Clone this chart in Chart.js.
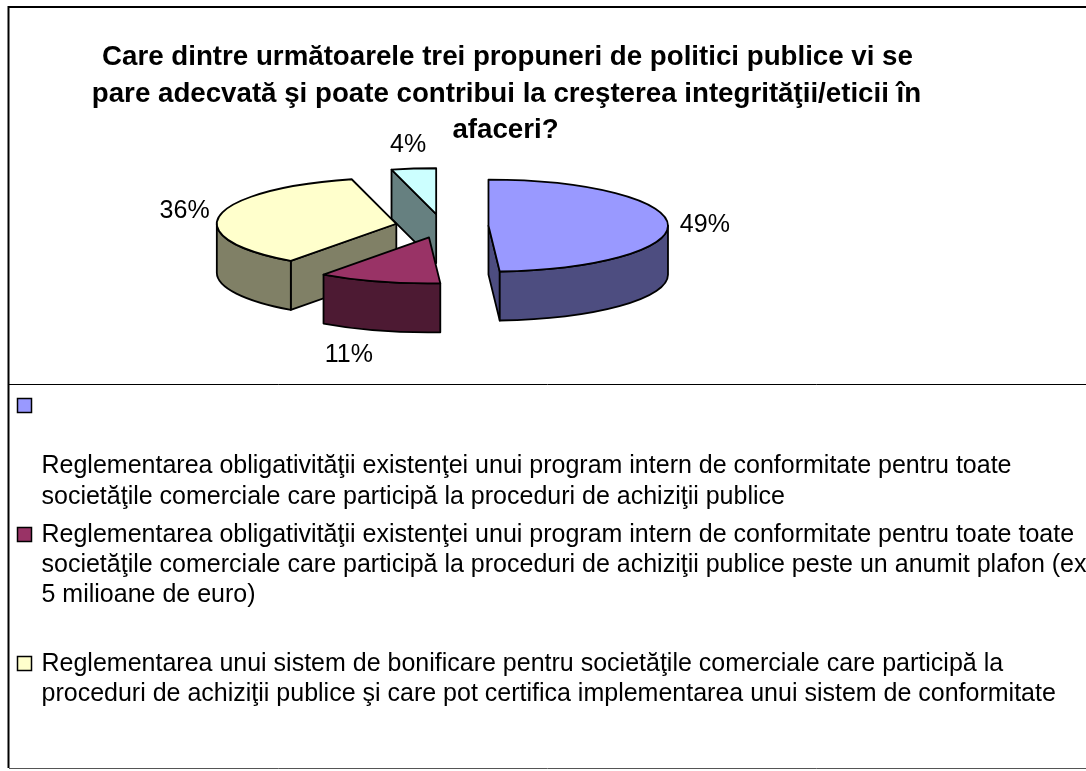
<!DOCTYPE html>
<html><head><meta charset="utf-8">
<style>html,body{margin:0;padding:0;background:#fff;overflow:hidden}canvas{display:block}</style>
<script src="https://cdn.jsdelivr.net/npm/chart.js@4"></script>
</head><body><canvas id="c" width="1086" height="771"></canvas>
<script>
const titleLines = [
  "Care dintre următoarele trei propuneri de politici publice vi se",
  "pare adecvată şi poate contribui la creşterea integrităţii/eticii în",
  "afaceri?"
];
const categories = [
  "Reglementarea obligativităţii existenţei unui program intern de conformitate pentru toate societăţile comerciale care participă la proceduri de achiziţii publice",
  "Reglementarea obligativităţii existenţei unui program intern de conformitate pentru toate toate societăţile comerciale care participă la proceduri de achiziţii publice peste un anumit plafon (ex 5 milioane de euro)",
  "Reglementarea unui sistem de bonificare pentru societăţile comerciale care participă la proceduri de achiziţii publice şi care pot certifica implementarea unui sistem de conformitate",
  ""
];
const values = [49, 11, 36, 4];
const topColors = ["#9999FF", "#993366", "#FFFFCC", "#CCFFFF"];
const wallColors = ["#4D4D80", "#4D1A33", "#808066", "#668080"];

const legendLines = [
  {marker: 0, markerY: 398.5, lines: [
    ["Reglementarea obligativităţii existenţei unui program intern de conformitate pentru toate", 473],
    ["societăţile comerciale care participă la proceduri de achiziţii publice", 504]]},
  {marker: 1, markerY: 527.5, lines: [
    ["Reglementarea obligativităţii existenţei unui program intern de conformitate pentru toate toate", 542],
    ["societăţile comerciale care participă la proceduri de achiziţii publice peste un anumit plafon (ex", 572],
    ["5 milioane de euro)", 602]]},
  {marker: 2, markerY: 656.5, lines: [
    ["Reglementarea unui sistem de bonificare pentru societăţile comerciale care participă la", 671],
    ["proceduri de achiziţii publice şi care pot certifica implementarea unui sistem de conformitate", 701]]}
];

const SQUASH = 0.256, DEPTH = 49, EXPLODE = 46.5;
const FONT = '"Liberation Sans", Arial, sans-serif';
const TITLE_FONT = 'bold 27.7px ' + FONT, TEXT_FONT = '25px ' + FONT;
const LABEL_NUDGE_X = [1, -20, 0, -1];
const LABEL_NUDGE_Y = [0, 0, -2, -3];

const pie3d = {
  id: 'pie3d',
  beforeDatasetsDraw(chart) {
    const ctx = chart.ctx;
    const arcs = chart.getDatasetMeta(0).data;
    const order = arcs.map((a, i) => i).sort((p, q) =>
      Math.sin((arcs[p].startAngle + arcs[p].endAngle) / 2) - Math.sin((arcs[q].startAngle + arcs[q].endAngle) / 2));
    ctx.save();
    ctx.lineWidth = 1.8;
    ctx.lineJoin = 'round';
    ctx.strokeStyle = '#000';
    order.forEach(i => {
      const a = arcs[i], s = a.startAngle, e = a.endAngle, r = a.outerRadius, mid = (s + e) / 2;
      const cx = a.x + EXPLODE * Math.cos(mid), cy = a.y + EXPLODE * SQUASH * Math.sin(mid), ry = r * SQUASH;
      const pt = t => [cx + r * Math.cos(t), cy + ry * Math.sin(t)];
      const radial = t => {
        const p = pt(t);
        ctx.beginPath();
        ctx.moveTo(cx, cy); ctx.lineTo(p[0], p[1]); ctx.lineTo(p[0], p[1] + DEPTH); ctx.lineTo(cx, cy + DEPTH);
        ctx.closePath(); ctx.fillStyle = wallColors[i]; ctx.fill(); ctx.stroke();
      };
      if (-Math.cos(s) > 1e-6) radial(s);
      if (Math.cos(e) > 1e-6) radial(e);
      const w1 = Math.max(s, 0), w2 = Math.min(e, Math.PI);
      if (w2 > w1) {
        ctx.beginPath();
        ctx.ellipse(cx, cy, r, ry, 0, w1, w2);
        ctx.ellipse(cx, cy + DEPTH, r, ry, 0, w2, w1, true);
        ctx.closePath(); ctx.fillStyle = wallColors[i]; ctx.fill(); ctx.stroke();
      }
      ctx.beginPath();
      ctx.moveTo(cx, cy);
      ctx.ellipse(cx, cy, r, ry, 0, s, e);
      ctx.closePath(); ctx.fillStyle = topColors[i]; ctx.fill(); ctx.stroke();
    });
    ctx.restore();
    return false;
  },
  afterDraw(chart) {
    const ctx = chart.ctx;
    const arcs = chart.getDatasetMeta(0).data;
    ctx.save();
    ctx.strokeStyle = '#000';
    ctx.lineWidth = 2; ctx.beginPath(); ctx.moveTo(1086, 7); ctx.lineTo(8.5, 7); ctx.lineTo(8.5, 768); ctx.stroke();
    ctx.lineWidth = 1;
    ctx.beginPath(); ctx.moveTo(9, 384.5); ctx.lineTo(1086, 384.5); ctx.stroke();
    ctx.strokeStyle = '#555';
    ctx.beginPath(); ctx.moveTo(9, 768.5); ctx.lineTo(1086, 768.5); ctx.stroke();
    ctx.fillStyle = '#000';
    ctx.textBaseline = 'alphabetic';
    ctx.textAlign = 'center';
    ctx.font = TITLE_FONT;
    [[507.5, 65], [506.5, 102], [505.5, 138]].forEach((p, i) => ctx.fillText(titleLines[i], p[0], p[1]));
    ctx.font = TEXT_FONT;
    arcs.forEach((a, i) => {
      const mid = (a.startAngle + a.endAngle) / 2, c = Math.cos(mid), s = Math.sin(mid);
      const x = a.x + EXPLODE * c + (a.outerRadius + 36) * c + LABEL_NUDGE_X[i];
      const y = a.y + (EXPLODE + a.outerRadius) * SQUASH * s + 23 * s + (s > 0.5 ? DEPTH : 0) + 9 + LABEL_NUDGE_Y[i];
      ctx.fillText(values[i] + '%', x, y);
    });
    ctx.textAlign = 'left';
    legendLines.forEach(g => {
      ctx.fillStyle = topColors[g.marker];
      ctx.strokeStyle = '#000'; ctx.lineWidth = 1.5;
      ctx.fillRect(17.5, g.markerY, 14, 14);
      ctx.strokeRect(17.5, g.markerY, 14, 14);
      ctx.fillStyle = '#000';
      g.lines.forEach(l => ctx.fillText(l[0], 41.5, l[1]));
    });
    ctx.restore();
  }
};

new Chart(document.getElementById('c'), {
  type: 'pie',
  data: { labels: categories, datasets: [{ data: values, backgroundColor: topColors, borderColor: '#000', borderWidth: 1 }] },
  options: {
    responsive: false,
    animation: false,
    layout: { padding: { left: 262, right: 464, top: 46, bottom: 365 } },
    plugins: { legend: { display: false }, title: { display: false }, tooltip: { enabled: false } }
  },
  plugins: [pie3d]
});
</script></body></html>
